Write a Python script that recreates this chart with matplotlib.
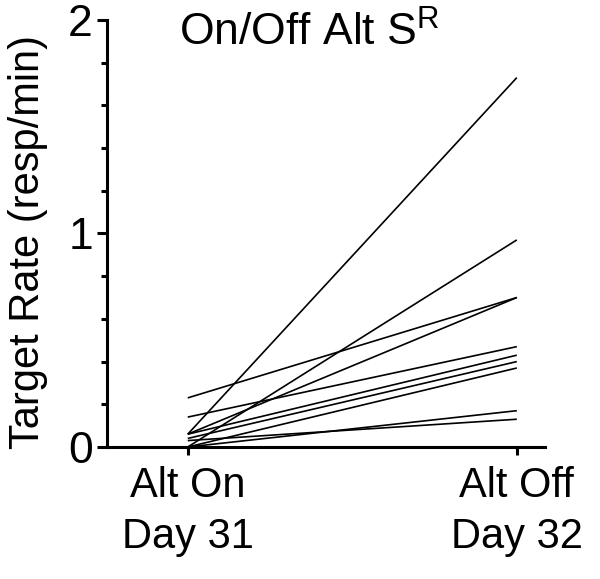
import matplotlib
matplotlib.use("Agg")
import matplotlib.pyplot as plt
from matplotlib.ticker import MultipleLocator

plt.rcParams['font.family'] = ['Liberation Sans', 'DejaVu Sans']
plt.rcParams['mathtext.fontset'] = 'custom'
plt.rcParams['mathtext.rm'] = 'Liberation Sans'

# values (one subject per line)
day31 = [0.06, 0.00, 0.23, 0.06, 0.14, 0.06, 0.04, 0.00, 0.00, 0.03]
day32 = [1.73, 0.97, 0.70, 0.70, 0.47, 0.43, 0.40, 0.37, 0.17, 0.13]
conditions = ["Alt On\nDay 31", "Alt Off\nDay 32"]
y_ticks = [0, 1, 2]

fig = plt.figure(figsize=(6, 5.79), dpi=100)
ax = fig.add_axes([0.178, 0.228, 0.73, 0.7375])

for a, b in zip(day31, day32):
    ax.plot([0, 1], [a, b], color="black", lw=1.2, solid_capstyle="butt")

ax.set_xlim(-0.246, 1.085)
ax.set_ylim(0, 2)
ax.set_xticks([0, 1])
ax.set_xticklabels(conditions, fontsize=30, linespacing=1.35)
ax.set_yticks(y_ticks)
ax.set_yticklabels([str(t) for t in y_ticks], fontsize=32)
ax.yaxis.set_minor_locator(MultipleLocator(0.2))

for s in ["top", "right"]:
    ax.spines[s].set_visible(False)
for s in ["left", "bottom"]:
    ax.spines[s].set_linewidth(2.2)

ax.tick_params(axis="y", which="major", length=7, width=2.2, pad=3)
ax.tick_params(axis="y", which="minor", length=4, width=2.2)
ax.tick_params(axis="x", which="major", length=6, width=2.2, pad=8)

ax.set_ylabel("Target Rate (resp/min)", fontsize=30)
ax.yaxis.set_label_coords(-0.135, 0.48)

fig.text(0.515, 0.943, r"On/Off Alt S$^\mathregular{R}$", fontsize=32,
         ha="center", va="center")

fig.savefig("out.png", dpi=100)
